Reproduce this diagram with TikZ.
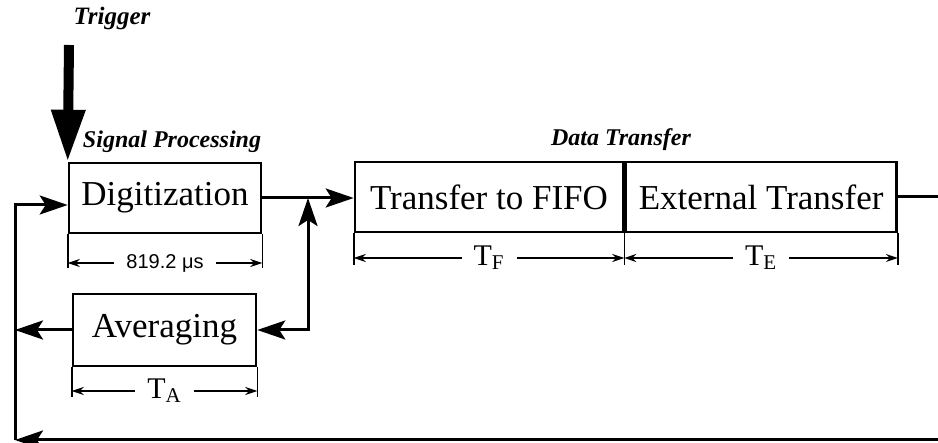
\documentclass[tikz,border=0pt]{standalone}
\usepackage{fontspec}
\setmainfont{Liberation Serif}
\setsansfont{Liberation Sans}
\usepackage{tikz}
\usetikzlibrary{arrows.meta, positioning}

\begin{document}
\begin{tikzpicture}[x=0.5pt, y=-0.5pt]
    \tikzstyle{block} = [draw, line width=1.3pt, rectangle, minimum height=35pt, inner sep=0pt, font=\fontsize{17.5}{19}\selectfont]
    \tikzstyle{head} = [font=\bfseries\itshape\fontsize{12}{14}\selectfont]
    \tikzstyle{line} = [draw, line width=1.5pt, -{Stealth[length=14pt, width=9.5pt, inset=3pt]}]
    \tikzstyle{dim} = [draw, line width=0.8pt, {Stealth[length=6pt, width=4pt]}-{Stealth[length=6pt, width=4pt]}]
    \tikzstyle{tick} = [draw, line width=0.8pt]
    \tikzstyle{dimlabel} = [fill=white, inner xsep=6pt, inner ysep=2pt, font=\fontsize{15}{16}\selectfont]

    \useasboundingbox (0,0) rectangle (938,443);

    % Blocks
    \node[block, minimum width=96pt] (dig) at (165,198) {Digitization};
    \node[block, minimum width=91.5pt, minimum height=36pt] (avg) at (164.5,330) {Averaging};
    \node[block, minimum width=134pt] (fifo) at (489,197) {Transfer to FIFO};
    \node[block, minimum width=135.5pt, right=0pt of fifo] (ext) {External Transfer};

    % Headings
    \node[head, font=\bfseries\itshape\fontsize{12.5}{14}\selectfont] (trig) at (112,18) {Trigger};
    \node[head] (sp) at (172,142) {Signal Processing};
    \node[head] (dt) at (621,140) {Data Transfer};

    % Loop points
    \coordinate (trigIn) at (69,45);
    \coordinate (jn) at (308,198);
    \coordinate (loopT) at (15,205);
    \coordinate (loopB) at (15,440);
    \coordinate (outR) at (938,195);
    \coordinate (inR) at (938,440);
    \coordinate (rowD) at (0,263);
    \coordinate (rowA) at (0,391);
    \coordinate (rowT) at (0,258);

    % Trigger
    \draw[line width=5pt, -{Triangle[length=26pt, width=16pt]}] (trigIn) -- (dig.north west);

    % Connections
    \draw[line] (dig.east) -- (fifo.west |- dig.east);
    \draw[line, {Stealth[length=14pt, width=9.5pt, inset=3pt]}-{Stealth[length=14pt, width=9.5pt, inset=3pt]}] (avg.east) -| (jn);
    \draw[line] (avg.west) -- (avg.west -| loopT);
    \draw[line width=1.5pt] (ext.east) -- (ext.east -| outR);
    \draw[line] (inR) -- (loopB);
    \draw[line] (loopB) -- (loopT) -- (dig.west |- loopT);

    % Times
    \draw[tick] (dig.south west) -- ++(0,34);
    \draw[tick] (dig.south east) -- ++(0,34);
    \draw[dim] (dig.south west |- rowD) -- (dig.south east |- rowD)
        node[midway, dimlabel, font=\sffamily\fontsize{10}{11}\selectfont] {819.2 μs};
    \draw[tick] (avg.south west) -- ++(0,30);
    \draw[tick] (avg.south east) -- ++(0,30);
    \draw[dim] (avg.south west |- rowA) -- (avg.south east |- rowA)
        node[midway, dimlabel] {T\textsubscript{A}};
    \draw[tick] (fifo.south west) -- ++(0,32);
    \draw[tick] (fifo.south east) -- ++(0,32);
    \draw[tick] (ext.south east) -- ++(0,32);
    \draw[dim] (fifo.south west |- rowT) -- (fifo.south east |- rowT)
        node[midway, dimlabel] {T\textsubscript{F}};
    \draw[dim] (ext.south west |- rowT) -- (ext.south east |- rowT)
        node[midway, dimlabel] {T\textsubscript{E}};
\end{tikzpicture}
\end{document}
